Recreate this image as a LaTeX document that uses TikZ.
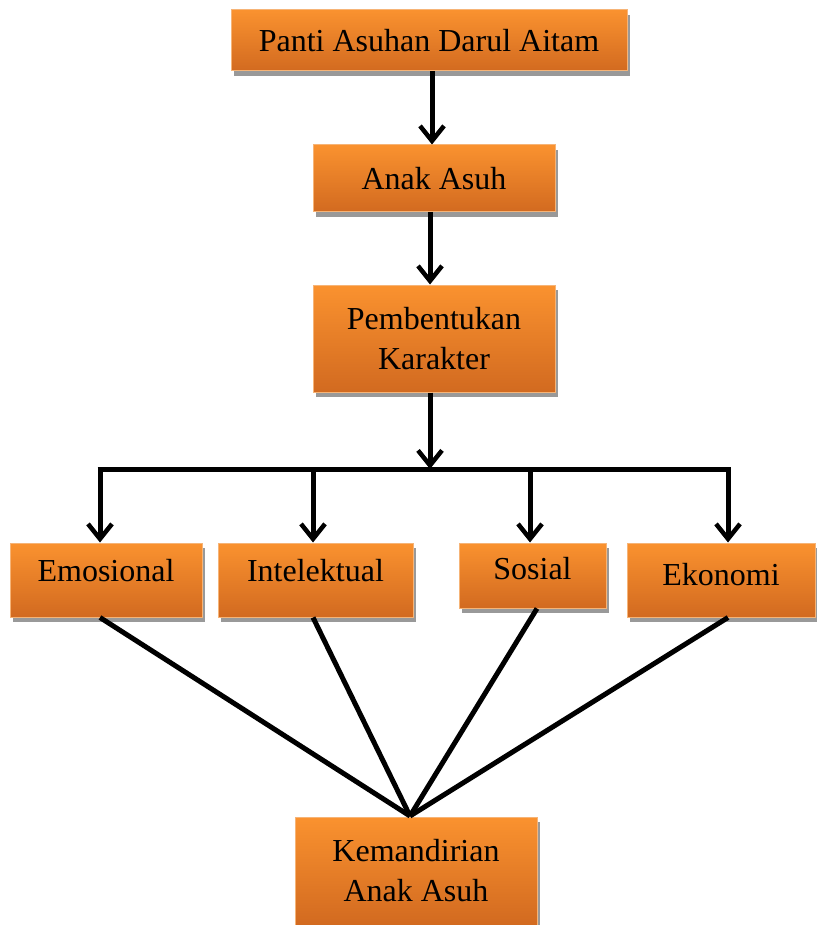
\documentclass[tikz,border=0pt]{standalone}
\usepackage{fontspec}
\setmainfont{Liberation Serif}
\usetikzlibrary{arrows.meta,shadows,calc}
\definecolor{boxtop}{HTML}{FA922F}
\definecolor{boxbot}{HTML}{D26A20}
\definecolor{boxline}{HTML}{F6B477}

\begin{document}
\begin{tikzpicture}[x=1pt,y=-1pt,
		box/.style = {rectangle, draw=boxline, line width=1pt, top color=boxtop, bottom color=boxbot,
			drop shadow={shadow xshift=3pt, shadow yshift=-5pt, fill=black!40, opacity=1},
			align=center, font=\fontsize{32}{40}\selectfont, inner sep=0pt},
		link/.style = {line width=5pt, black},
		>={Straight Barb[length=15pt,width=24pt,line width=4.5pt]}
		]
		\useasboundingbox (0,0) rectangle (816,925);
		\node[box, minimum width=396, minimum height=61] (panti) at (429,40.5) {Panti Asuhan Darul Aitam};
		\node[box, minimum width=242, minimum height=67] (anak) at (434,178.5) {Anak Asuh};
		\node[box, minimum width=242, minimum height=107] (bentuk) at (434,338.5) {Pembentukan\\Karakter};
		\node[box, minimum width=192, minimum height=74, text depth=20pt] (emo) at (106,580) {Emosional};
		\node[box, minimum width=195, minimum height=74, text depth=20pt] (intel) at (315.5,580) {Intelektual};
		\node[box, minimum width=147, minimum height=65, text depth=14pt] (sosial) at (532.5,575.5) {Sosial};
		\node[box, minimum width=188, minimum height=74, text depth=12pt] (eko) at (721,580) {Ekonomi};
		\node[box, minimum width=242, minimum height=108] (mandiri) at (416,871) {Kemandirian\\Anak Asuh};

		\coordinate (bar) at (430,469);
		\coordinate (t1) at (100,469);
		\coordinate (t2) at (313,469);
		\coordinate (t3) at (530,469);
		\coordinate (t4) at (728,469);
		\coordinate (meet) at (410,816);

		\draw[link,->] (panti.south -| 432,0) -- (anak.north -| 432,0);
		\draw[link,->] (anak.south -| 430,0) -- (bentuk.north -| 430,0);
		\draw[link,->] (bentuk.south -| bar) -- (bar);
		\draw[link] ($(t1)+(-2.5,0)$) -- ($(t4)+(2.5,0)$);
		\draw[link,->] (t1) -- (t1 |- emo.north);
		\draw[link,->] (t2) -- (t2 |- intel.north);
		\draw[link,->] (t3) -- (t3 |- sosial.north);
		\draw[link,->] (t4) -- (t4 |- eko.north);

		\draw[link] (t1 |- emo.south) -- (meet);
		\draw[link] (t2 |- intel.south) -- (meet);
		\draw[link] (537,0 |- sosial.south) -- (meet);
		\draw[link] (t4 |- eko.south) -- (meet);
	\end{tikzpicture}
\end{document}
